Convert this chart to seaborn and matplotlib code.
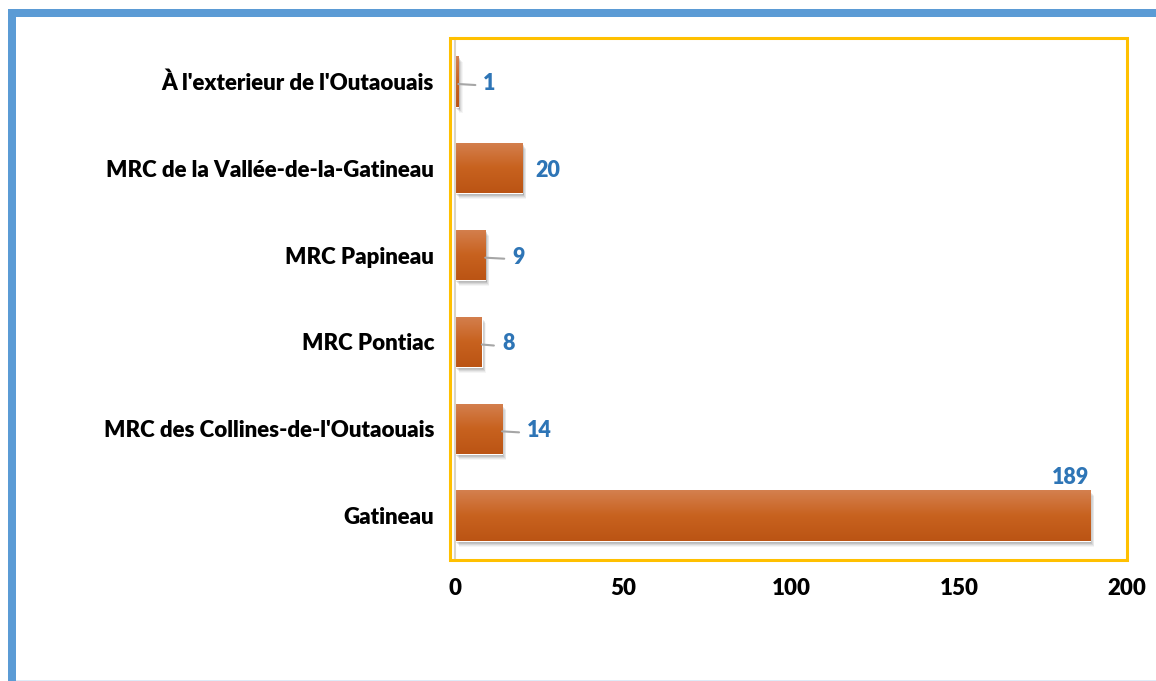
import numpy as np
import pandas as pd
import matplotlib
matplotlib.use("Agg")
import matplotlib.pyplot as plt
import matplotlib.transforms as mtransforms
from matplotlib.patches import Rectangle
import seaborn as sns

# ---- data ----
categories = [
    "À l'exterieur de l'Outaouais",
    "MRC de la Vallée-de-la-Gatineau",
    "MRC Papineau",
    "MRC Pontiac",
    "MRC des Collines-de-l'Outaouais",
    "Gatineau",
]
values = [1, 20, 9, 8, 14, 189]
xticks = [0, 50, 100, 150, 200]

# ---- style ----
label_offsets_px = [25, 13, 27, 20, 25, None]   # None -> label above the bar end
leader = [True, False, True, True, True, False]
LABEL_BLUE = "#2E75B6"
FONT = ["Lato", "DejaVu Sans"]
WEIGHT = 800

sns.set_theme(style="white")
plt.rcParams["font.family"] = FONT

W, H = 1156, 681
fig = plt.figure(figsize=(W / 100, H / 100), dpi=100)
fig.patch.set_facecolor("white")

ax_left, ax_right, ax_top, ax_bottom = 455, 1127, 38, 559
ax = fig.add_axes([ax_left / W, (H - ax_bottom) / H,
                   (ax_right - ax_left) / W, (ax_bottom - ax_top) / H])

df = pd.DataFrame({"category": categories, "value": values})
sns.barplot(data=df, x="value", y="category", orient="h", ax=ax,
            color="#C8601F", width=0.58, saturation=1, zorder=3)

ax.set_xlim(0, 200)
ax.set_ylim(len(categories) - 0.5, -0.5)
ax.set_xticks(xticks)
ax.set_xticklabels([str(t) for t in xticks])
ax.set_xlabel("")
ax.set_ylabel("")
ax.tick_params(axis="both", length=0, labelsize=16, colors="black")
ax.tick_params(axis="x", pad=14)
ax.tick_params(axis="y", pad=15)
for lab in ax.get_xticklabels() + ax.get_yticklabels():
    lab.set_fontweight(WEIGHT)
    lab.set_family(FONT)
for s in ["top", "right", "bottom"]:
    ax.spines[s].set_visible(False)
ax.spines["left"].set_color("#D9D3C7")
ax.spines["left"].set_linewidth(1.5)
ax.spines["left"].set_zorder(5)
ax.set_facecolor("none")

# gradient fill and soft drop shadow on each bar
grad = np.linspace(0, 1, 256).reshape(-1, 1)
cmap = matplotlib.colors.LinearSegmentedColormap.from_list(
    "bar", ["#D4804F", "#C8621F", "#BB5414"])
for p in list(ax.patches):
    x0, y0 = p.get_x(), p.get_y()
    w, h = p.get_width(), p.get_height()
    for k, a in zip([6, 5, 4, 3, 2], [0.04, 0.05, 0.07, 0.09, 0.12]):
        off = mtransforms.ScaledTranslation(k * 0.7 / 100, -k / 100, fig.dpi_scale_trans)
        sh = Rectangle((x0, y0), w, h, transform=ax.transData + off,
                       facecolor="black", alpha=a, edgecolor="none", zorder=2)
        ax.add_patch(sh)
    im = ax.imshow(grad, cmap=cmap, aspect="auto",
                   extent=[x0, x0 + w, y0 + h, y0], zorder=3.5,
                   interpolation="bicubic")
    im.set_clip_path(p)
ax.set_xlim(0, 200)
ax.set_ylim(len(categories) - 0.5, -0.5)

# data labels with leader lines
for i, v in enumerate(values):
    off = label_offsets_px[i]
    if off is None:
        ax.annotate(str(v), xy=(v, i - 0.29), xytext=(-1, 2),
                    textcoords="offset pixels", ha="right", va="bottom",
                    color=LABEL_BLUE, fontsize=15.5, fontweight=WEIGHT, zorder=6)
    else:
        ax.annotate(str(v), xy=(v, i), xytext=(off, -2),
                    textcoords="offset pixels", ha="left", va="center",
                    color=LABEL_BLUE, fontsize=15.5, fontweight=WEIGHT, zorder=6)
        if leader[i]:
            ax.annotate("", xy=(v, i + 0.03), xytext=(off - 8, -1),
                        textcoords="offset pixels",
                        arrowprops=dict(arrowstyle="-", color="#A6A6A6", lw=1.5,
                                        shrinkA=0, shrinkB=0),
                        zorder=6)

# yellow plot-area frame
fig.add_artist(Rectangle((450 / W, (H - 560) / H), (1127 - 450) / W, (560 - 38) / H,
                         transform=fig.transFigure, fill=False,
                         edgecolor="#FFC000", linewidth=2.2, zorder=1))
# blue chart-area border
fig.add_artist(Rectangle((8 / W, (H - 17) / H), 1 - 8 / W, 8 / H,
                         transform=fig.transFigure, facecolor="#5B9BD5",
                         edgecolor="none"))
fig.add_artist(Rectangle((8 / W, 0), 8 / W, (H - 9) / H,
                         transform=fig.transFigure, facecolor="#5B9BD5",
                         edgecolor="none"))
fig.add_artist(Rectangle((16 / W, 0), 1, 1.5 / H,
                         transform=fig.transFigure, facecolor="#DDEBF7",
                         edgecolor="none"))

fig.savefig("out.png", dpi=100)
